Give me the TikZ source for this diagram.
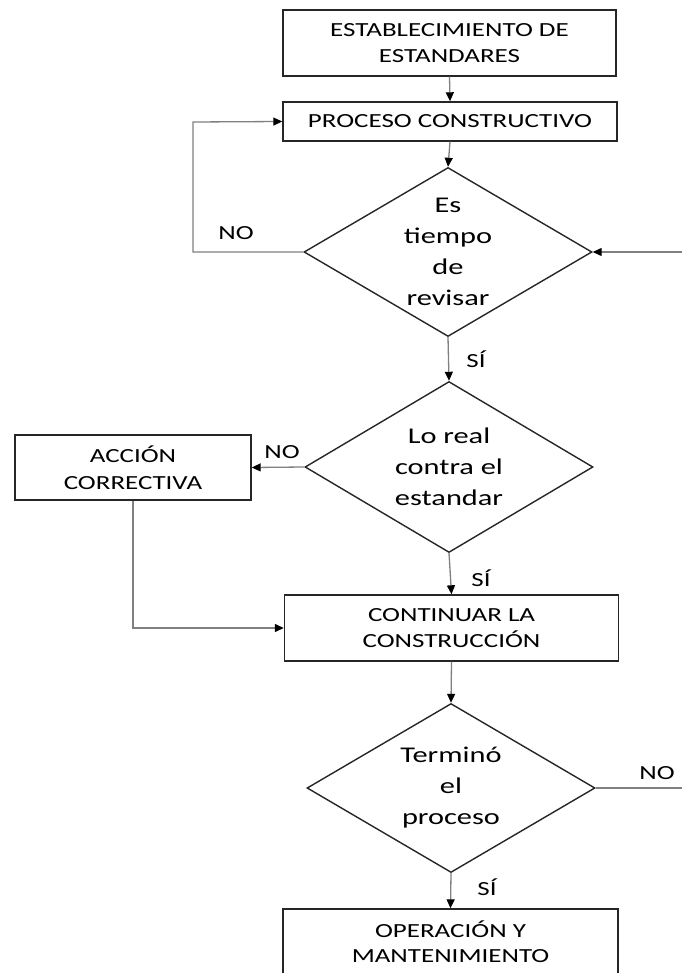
\documentclass[tikz,border=0pt]{standalone}
\usepackage{fontspec}
\setmainfont[FakeStretch=1.35]{Carlito}
\usetikzlibrary{shapes.geometric,arrows.meta}
\begin{document}
\begin{tikzpicture}[x=1pt,y=-1pt,
  box/.style={draw=black!85, line width=1.4pt, inner sep=0pt, align=center,
    font=\fontsize{20}{26}\selectfont},
  dia/.style={draw=black!85, line width=1.4pt, shape=diamond, inner sep=0pt,
    minimum width=288pt, minimum height=169pt},
  dtext/.style={align=center, inner sep=0pt, font=\fontsize{22.5}{31}\selectfont},
  lbl/.style={inner sep=0pt, font=\fontsize{20}{24}\selectfont},
  conn/.style={draw=black!50, line width=1.3pt},
  arr/.style={conn, -{Triangle[length=9pt,width=8pt,color=black]}}]
\useasboundingbox (0,0) rectangle (682,973);
% boxes
\node[box, minimum width=333pt, minimum height=66pt] (b1) at (449.5,43) {ESTABLECIMIENTO DE\\ESTANDARES};
\node[box, minimum width=334pt, minimum height=39pt] (b2) at (450,121.5) {PROCESO CONSTRUCTIVO};
\node[dia] (d1) at (448,252) {};
\node[dtext] (t1) at (d1.center) {Es\\tiempo\\de\\revisar};
\node[dia, minimum height=171pt] (d2) at (449,467) {};
\node[dtext] (t2) at (d2.center) {Lo real\\contra el\\estandar};
\node[box, minimum width=236pt, minimum height=65pt, font=\fontsize{20}{27}\selectfont] (ac) at (133,467.5) {ACCIÓN\\CORRECTIVA};
\node[box, minimum width=334pt, minimum height=66pt] (b3) at (451.5,628) {CONTINUAR LA\\CONSTRUCCIÓN};
\node[dia] (d3) at (451,788) {};
\node[dtext] (t3) at (d3.center) {Terminó\\el\\proceso};
\node[box, minimum width=335pt, minimum height=66pt, font=\fontsize{20}{25}\selectfont] (b4) at (450.5,942) {OPERACIÓN Y\\MANTENIMIENTO};
% free ends
\coordinate (rin) at (682,252);
\coordinate (rout) at (682,788);
% connectors
\draw[arr] (b1.south) -- (b2.north);
\draw[arr] (b2.south) -- (d1.north);
\draw[arr] (d1.west) -- (193,252) -- (193,122) -- (b2.west);
\draw[arr] (rin) -- (d1.east);
\draw[arr] (d1.south) -- (d2.north);
\draw[arr] (d2.west) -- (ac.east);
\draw[arr] (d2.south) -- (b3.north);
\draw[arr] (ac.south) -- (133,628) -- (b3.west);
\draw[arr] (b3.south) -- (d3.north);
\draw[conn] (d3.east) -- (rout);
\draw[arr] (d3.south) -- (b4.north);
% labels
\node[lbl] (n1) at (236,233) {NO};
\node[lbl] (s1) at (476,359) {SÍ};
\node[lbl] (n2) at (282,452) {NO};
\node[lbl] (s2) at (481,578) {SÍ};
\node[lbl] (n3) at (657,773) {NO};
\node[lbl] (s3) at (487,887) {SÍ};
\end{tikzpicture}
\end{document}
